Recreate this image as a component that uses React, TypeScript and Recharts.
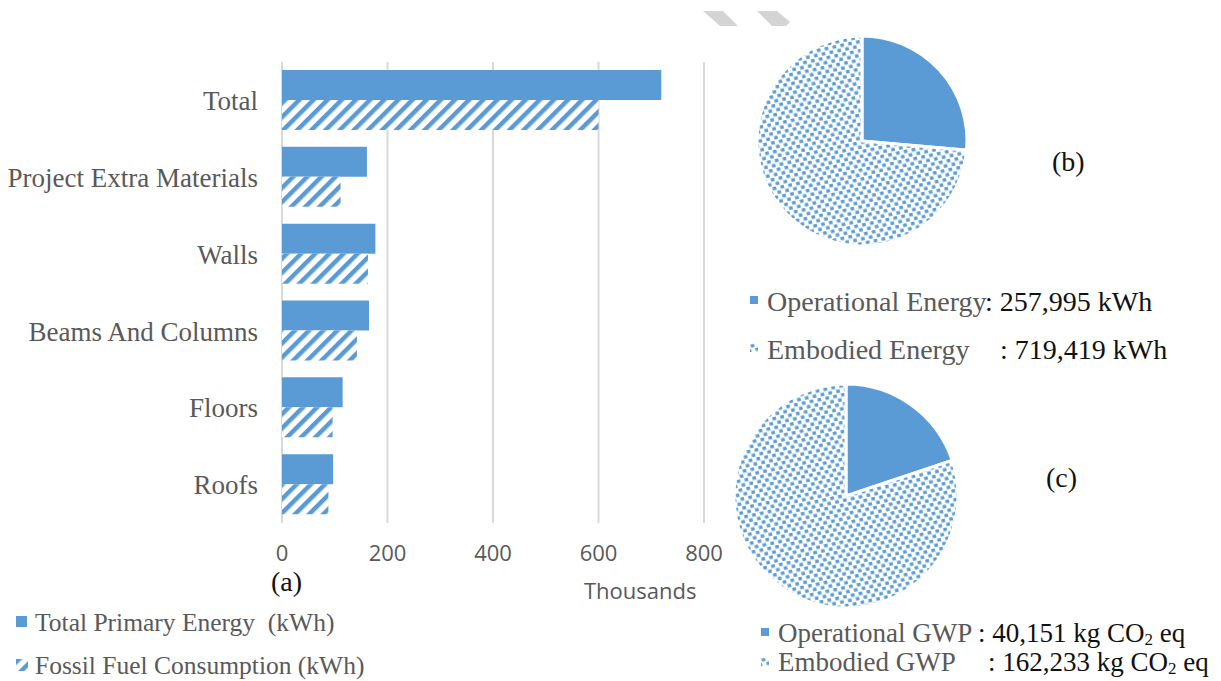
import { BarChart, Bar, XAxis, YAxis, CartesianGrid, PieChart, Pie, Cell } from 'recharts'

const categories = ['Total', 'Project Extra Materials', 'Walls', 'Beams And Columns', 'Floors', 'Roofs']
const primaryEnergy = [719, 161, 177, 165, 115, 97]
const fossilFuel = [600, 111, 163, 142, 96, 88]
const xTicks = [0, 200, 400, 600, 800]

const energyNames = ['Operational Energy', 'Embodied Energy']
const energyValues = [257995, 719419]
const gwpNames = ['Operational GWP', 'Embodied GWP']
const gwpValues = [40151, 162233]

const BLUE = '#5b9bd5'
const GREY = '#595959'
const SERIF = '"Liberation Serif", "Times New Roman", serif'
const SANS = '"Open Sans", "Noto Sans", sans-serif'

const barData = categories.map((name, i) => ({ name, primary: primaryEnergy[i], fossil: fossilFuel[i] }))
const energyData = energyNames.map((name, i) => ({ name, value: energyValues[i] }))
const gwpData = gwpNames.map((name, i) => ({ name, value: gwpValues[i] }))

function Txt({ x, y, size, color = GREY, font = SERIF, children }: any) {
  const h = Math.round(size * 1.05)
  return (
    <div
      style={{
        position: 'absolute', left: x, top: y - h / 2, height: h, lineHeight: h + 'px',
        fontSize: size, fontFamily: font, color, whiteSpace: 'pre',
      }}
    >
      {children}
    </div>
  )
}

function Patterns() {
  return (
    <svg width={0} height={0} style={{ position: 'absolute' }}>
      <defs>
        <pattern id="hatch" width={10} height={10} patternUnits="userSpaceOnUse" patternTransform="rotate(45)">
          <rect x={0} y={0} width={10} height={10} fill="#fff" />
          <rect x={0} y={0} width={4.5} height={10} fill={BLUE} />
        </pattern>
        <pattern id="dots" width={8} height={9} patternUnits="userSpaceOnUse" patternTransform="rotate(-12)">
          <rect x={0} y={0} width={8} height={9} fill="#fff" />
          <rect x={0.3} y={0.5} width={3.6} height={3.4} fill={BLUE} />
          <rect x={4.3} y={5} width={3.6} height={3.4} fill={BLUE} />
        </pattern>
      </defs>
    </svg>
  )
}

const sub = { fontSize: 17, verticalAlign: '-0.15em', lineHeight: 0 }

export default function App() {
  return (
    <div style={{ position: 'absolute', left: 0, top: 0, width: 1221, height: 681, background: '#fff', overflow: 'hidden' }}>
      <Patterns />
      {/* faint grey marks at the top of the scan */}
      <svg width={120} height={40} style={{ position: 'absolute', left: 690, top: 0 }}>
        <polygon points="13,11 33,11 48,26 30,26" fill="#d4d4d4" />
        <polygon points="67,11 87,11 100,22 96,26 82,26" fill="#d4d4d4" />
      </svg>

      <div style={{ position: 'absolute', left: 0, top: 0 }}>
        <BarChart
          width={740}
          height={600}
          data={barData}
          layout="vertical"
          margin={{ top: 62, right: 36, bottom: 0, left: 0 }}
          barGap={0}
        >
          <CartesianGrid horizontal={false} stroke="#d9d9d9" strokeWidth={2} />
          <XAxis
            type="number"
            domain={[0, 800]}
            ticks={xTicks}
            height={77}
            axisLine={false}
            tickLine={false}
            tickMargin={16}
            tick={{ fontSize: 22, fontFamily: SANS, fill: GREY }}
          />
          <YAxis
            type="category"
            dataKey="name"
            width={282}
            axisLine={false}
            tickLine={false}
            tickMargin={18}
            interval={0}
            tick={{ fontSize: 27, fontFamily: SERIF, fill: GREY }}
          />
          <Bar dataKey="primary" fill={BLUE} barSize={30} isAnimationActive={false} />
          <Bar dataKey="fossil" fill="url(#hatch)" barSize={30} isAnimationActive={false} />
        </BarChart>
      </div>

      <div style={{ position: 'absolute', left: 720, top: 0 }}>
        <PieChart width={501} height={681}>
          <Pie
            data={energyData}
            dataKey="value"
            cx={137}
            cy={136}
            outerRadius={105}
            startAngle={90}
            endAngle={-270}
            stroke="#fff"
            strokeWidth={3}
            isAnimationActive={false}
          >
            <Cell fill={BLUE} />
            <Cell fill="url(#dots)" />
          </Pie>
          <Pie
            data={gwpData}
            dataKey="value"
            cx={121}
            cy={491}
            outerRadius={112}
            startAngle={90}
            endAngle={-270}
            stroke="#fff"
            strokeWidth={3}
            isAnimationActive={false}
          >
            <Cell fill={BLUE} />
            <Cell fill="url(#dots)" />
          </Pie>
        </PieChart>
      </div>

      <Txt x={271} y={581} size={28} color="#111">(a)</Txt>
      <Txt x={584} y={590} size={22} font={SANS}>Thousands</Txt>

      <div style={{ position: 'absolute', left: 16, top: 616, width: 11, height: 11, background: BLUE }} />
      <Txt x={35} y={622} size={25.5}>{'Total Primary Energy  (kWh)'}</Txt>
      <svg width={12} height={12} style={{ position: 'absolute', left: 16, top: 659 }}>
        <rect width={12} height={12} fill="url(#hatch)" />
      </svg>
      <Txt x={35} y={665} size={25.5}>Fossil Fuel Consumption (kWh)</Txt>

      <Txt x={1052} y={161} size={28} color="#111">(b)</Txt>
      <div style={{ position: 'absolute', left: 750, top: 296, width: 8, height: 8, background: BLUE }} />
      <Txt x={767} y={301} size={28}>Operational Energy</Txt>
      <Txt x={985} y={301} size={28} color="#111">: 257,995 kWh</Txt>
      <svg width={8} height={8} style={{ position: 'absolute', left: 750, top: 344 }}>
        <rect width={8} height={8} fill="url(#dots)" />
      </svg>
      <Txt x={767} y={349} size={28}>Embodied Energy</Txt>
      <Txt x={1000} y={349} size={28} color="#111">: 719,419 kWh</Txt>

      <Txt x={1046} y={477} size={28} color="#111">(c)</Txt>
      <div style={{ position: 'absolute', left: 761, top: 628, width: 8, height: 8, background: BLUE }} />
      <Txt x={778} y={633} size={27}>Operational GWP</Txt>
      <Txt x={978} y={633} size={27} color="#111">: 40,151 kg CO<sub style={sub}>2</sub> eq</Txt>
      <svg width={8} height={8} style={{ position: 'absolute', left: 761, top: 658 }}>
        <rect width={8} height={8} fill="url(#dots)" />
      </svg>
      <Txt x={778} y={662} size={27}>Embodied GWP</Txt>
      <Txt x={988} y={662} size={27} color="#111">: 162,233 kg CO<sub style={sub}>2</sub> eq</Txt>
    </div>
  )
}
